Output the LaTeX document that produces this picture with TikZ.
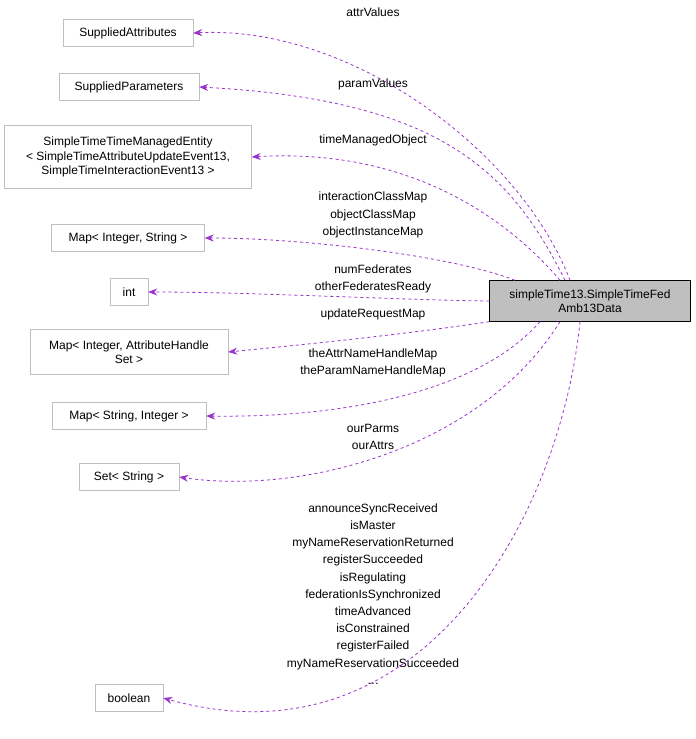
\documentclass[tikz,border=0pt]{standalone}
\usepackage{fontspec}
\setmainfont{Liberation Sans}
\usetikzlibrary{arrows.meta}
\definecolor{edgepurple}{HTML}{9A32CD}
\definecolor{boxgray}{HTML}{BFBFBF}
\tikzset{
  cls/.style={draw=boxgray, fill=white, inner sep=3pt, align=center, font=\fontsize{12}{14.5}\selectfont},
  mainbox/.style={draw=black, fill=boxgray, inner sep=3pt, align=center, minimum width=201pt, minimum height=41pt, font=\fontsize{12}{14.5}\selectfont},
  uses/.style={draw=edgepurple, line width=0.8pt, dashed, -{Stealth[length=9pt,width=7pt]}},
  lbl/.style={align=center, font=\fontsize{12}{17.2}\selectfont, inner sep=0pt}
}
\begin{document}
\begin{tikzpicture}[x=1pt,y=-1pt]
\useasboundingbox (0,0) rectangle (696,739);
\node[mainbox] (main) at (590,301) {simpleTime13.SimpleTimeFed\\Amb13Data};
\node[cls, minimum width=130pt, minimum height=27pt] (attrs) at (128,33) {SuppliedAttributes};
\node[cls, minimum width=140pt, minimum height=27pt] (params) at (129,87) {SuppliedParameters};
\node[cls, minimum width=247pt, minimum height=63pt] (entity) at (128,157) {SimpleTimeTimeManagedEntity\\\textless{} SimpleTimeAttributeUpdateEvent13,\\SimpleTimeInteractionEvent13 \textgreater};
\node[cls, minimum width=153pt, minimum height=27pt] (mapis) at (128,238) {Map\textless{} Integer, String \textgreater};
\node[cls, minimum width=38pt, minimum height=27pt] (int) at (129,292) {int};
\node[cls, minimum width=198pt, minimum height=45pt] (mapah) at (129,352) {Map\textless{} Integer, AttributeHandle\\Set \textgreater};
\node[cls, minimum width=154pt, minimum height=27pt] (mapsi) at (129,416) {Map\textless{} String, Integer \textgreater};
\node[cls, minimum width=100pt, minimum height=27pt] (set) at (129,477) {Set\textless{} String \textgreater};
\node[cls, minimum width=68pt, minimum height=27pt] (bool) at (129,698) {boolean};
% connectors
\draw[uses] (main.north) ++(-20,0) .. controls (520,150) and (350,25) .. (attrs.east);
\draw[uses] (main.north) ++(-25,0) .. controls (510,170) and (440,100) .. (params.east);
\draw[uses] (main.north) ++(-30,0) .. controls (500,210) and (400,148) .. (entity.east);
\draw[uses] (main.north) ++(-75,0) .. controls (450,255) and (300,238) .. (mapis.east);
\draw[uses] (main.west) .. controls (400,300) and (250,292) .. (int.east);
\draw[uses] (main.south west) .. controls (400,335) and (300,345) .. (mapah.east);
\draw[uses] (main.south) ++(-50,0) .. controls (480,390) and (350,418) .. (mapsi.east);
\draw[uses] (main.south) ++(-30,0) .. controls (480,450) and (300,495) .. (set.east);
\draw[uses] (main.south) ++(-10,0) .. controls (560,520) and (420,770) .. (bool.east);
% labels
\node[lbl] (lattrs) at (373,12) {attrValues};
\node[lbl] (lparams) at (373,84) {paramValues};
\node[lbl] (lentity) at (373,140) {timeManagedObject};
\node[lbl] (lmapis) at (373,215) {interactionClassMap\\objectClassMap\\objectInstanceMap};
\node[lbl] (lint) at (373,279) {numFederates\\otherFederatesReady};
\node[lbl] (lmapah) at (373,314) {updateRequestMap};
\node[lbl] (lmapsi) at (373,363) {theAttrNameHandleMap\\theParamNameHandleMap};
\node[lbl] (lset) at (373,437) {ourParms\\ourAttrs};
\node[lbl] (lbool) at (373,594) {announceSyncReceived\\isMaster\\myNameReservationReturned\\registerSucceeded\\isRegulating\\federationIsSynchronized\\timeAdvanced\\isConstrained\\registerFailed\\myNameReservationSucceeded\\\dots};
\end{tikzpicture}
\end{document}
